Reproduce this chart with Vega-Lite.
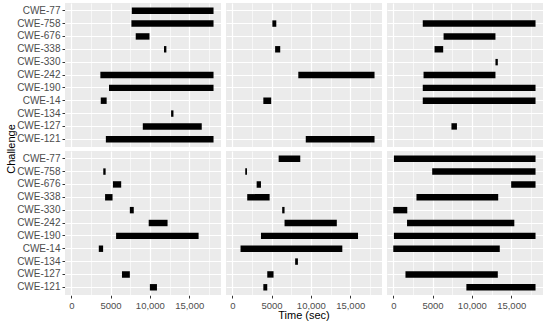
{
  "$schema": "https://vega.github.io/schema/vega-lite/v6.json",
  "padding": {"left": 5, "top": 3, "right": 5, "bottom": 0},
  "data": {"values": [
    {"r": 1, "c": 1, "challenge": "CWE-77", "start": 7700, "end": 18100},
    {"r": 1, "c": 1, "challenge": "CWE-758", "start": 7650, "end": 18100},
    {"r": 1, "c": 1, "challenge": "CWE-676", "start": 8200, "end": 9950},
    {"r": 1, "c": 1, "challenge": "CWE-338", "start": 11800, "end": 12100},
    {"r": 1, "c": 1, "challenge": "CWE-242", "start": 3700, "end": 18100},
    {"r": 1, "c": 1, "challenge": "CWE-190", "start": 4800, "end": 18100},
    {"r": 1, "c": 1, "challenge": "CWE-14", "start": 3750, "end": 4500},
    {"r": 1, "c": 1, "challenge": "CWE-134", "start": 12700, "end": 13000},
    {"r": 1, "c": 1, "challenge": "CWE-127", "start": 9100, "end": 16600},
    {"r": 1, "c": 1, "challenge": "CWE-121", "start": 4400, "end": 18100},

    {"r": 2, "c": 1, "challenge": "CWE-758", "start": 4070, "end": 4370},
    {"r": 2, "c": 1, "challenge": "CWE-676", "start": 5300, "end": 6350},
    {"r": 2, "c": 1, "challenge": "CWE-338", "start": 4300, "end": 5250},
    {"r": 2, "c": 1, "challenge": "CWE-330", "start": 7450, "end": 7950},
    {"r": 2, "c": 1, "challenge": "CWE-242", "start": 9850, "end": 12250},
    {"r": 2, "c": 1, "challenge": "CWE-190", "start": 5700, "end": 16200},
    {"r": 2, "c": 1, "challenge": "CWE-14", "start": 3500, "end": 4050},
    {"r": 2, "c": 1, "challenge": "CWE-127", "start": 6450, "end": 7450},
    {"r": 2, "c": 1, "challenge": "CWE-121", "start": 10000, "end": 10900},

    {"r": 1, "c": 2, "challenge": "CWE-758", "start": 5100, "end": 5600},
    {"r": 1, "c": 2, "challenge": "CWE-338", "start": 5450, "end": 6100},
    {"r": 1, "c": 2, "challenge": "CWE-242", "start": 8400, "end": 18100},
    {"r": 1, "c": 2, "challenge": "CWE-14", "start": 3950, "end": 4950},
    {"r": 1, "c": 2, "challenge": "CWE-121", "start": 9350, "end": 18100},

    {"r": 2, "c": 2, "challenge": "CWE-77", "start": 5900, "end": 8650},
    {"r": 2, "c": 2, "challenge": "CWE-758", "start": 1650, "end": 1870},
    {"r": 2, "c": 2, "challenge": "CWE-676", "start": 3100, "end": 3650},
    {"r": 2, "c": 2, "challenge": "CWE-338", "start": 1900, "end": 4750},
    {"r": 2, "c": 2, "challenge": "CWE-330", "start": 6350, "end": 6650},
    {"r": 2, "c": 2, "challenge": "CWE-242", "start": 6650, "end": 13300},
    {"r": 2, "c": 2, "challenge": "CWE-190", "start": 3650, "end": 16000},
    {"r": 2, "c": 2, "challenge": "CWE-14", "start": 1050, "end": 14000},
    {"r": 2, "c": 2, "challenge": "CWE-134", "start": 8000, "end": 8350},
    {"r": 2, "c": 2, "challenge": "CWE-127", "start": 4450, "end": 5250},
    {"r": 2, "c": 2, "challenge": "CWE-121", "start": 3950, "end": 4450},

    {"r": 1, "c": 3, "challenge": "CWE-758", "start": 3750, "end": 18100},
    {"r": 1, "c": 3, "challenge": "CWE-676", "start": 6400, "end": 13000},
    {"r": 1, "c": 3, "challenge": "CWE-338", "start": 5250, "end": 6350},
    {"r": 1, "c": 3, "challenge": "CWE-330", "start": 13000, "end": 13300},
    {"r": 1, "c": 3, "challenge": "CWE-242", "start": 3850, "end": 13000},
    {"r": 1, "c": 3, "challenge": "CWE-190", "start": 3750, "end": 18100},
    {"r": 1, "c": 3, "challenge": "CWE-14", "start": 3750, "end": 18100},
    {"r": 1, "c": 3, "challenge": "CWE-127", "start": 7400, "end": 8100},

    {"r": 2, "c": 3, "challenge": "CWE-77", "start": 80, "end": 18100},
    {"r": 2, "c": 3, "challenge": "CWE-758", "start": 4950, "end": 18100},
    {"r": 2, "c": 3, "challenge": "CWE-676", "start": 15000, "end": 18100},
    {"r": 2, "c": 3, "challenge": "CWE-338", "start": 2950, "end": 13350},
    {"r": 2, "c": 3, "challenge": "CWE-330", "start": 0, "end": 1780},
    {"r": 2, "c": 3, "challenge": "CWE-242", "start": 1750, "end": 15400},
    {"r": 2, "c": 3, "challenge": "CWE-190", "start": 80, "end": 18100},
    {"r": 2, "c": 3, "challenge": "CWE-14", "start": 0, "end": 13550},
    {"r": 2, "c": 3, "challenge": "CWE-127", "start": 1550, "end": 13300},
    {"r": 2, "c": 3, "challenge": "CWE-121", "start": 9300, "end": 18100}
  ]},
  "facet": {
    "row": {"field": "r", "type": "ordinal", "title": "Challenge", "header": {"labels": false, "labelPadding": 0, "titlePadding": -11, "titleFontSize": 11, "titleFontWeight": "normal", "titleColor": "#000000", "titleFont": "Liberation Sans"}},
    "column": {"field": "c", "type": "ordinal", "title": "Time (sec)", "header": {"labels": false, "labelPadding": 0, "titleOrient": "bottom", "titlePadding": -10, "titleFontSize": 11, "titleFontWeight": "normal", "titleColor": "#000000", "titleFont": "Liberation Sans"}}
  },
  "spacing": {"row": 4, "column": 5},
  "spec": {
    "width": 156,
    "height": 144,
    "mark": {"type": "bar", "color": "black"},
    "encoding": {
      "y": {
        "field": "challenge", "type": "nominal", "title": null,
        "scale": {"domain": ["CWE-77", "CWE-758", "CWE-676", "CWE-338", "CWE-330", "CWE-242", "CWE-190", "CWE-14", "CWE-134", "CWE-127", "CWE-121"], "paddingInner": 0.5, "paddingOuter": 0.35},
        "axis": {"bandPosition": 0.5, "labelFontSize": 10}
      },
      "x": {
        "field": "start", "type": "quantitative", "title": null,
        "scale": {"domain": [-800, 19050], "nice": false, "zero": false},
        "axis": {
          "values": [0, 2500, 5000, 7500, 10000, 12500, 15000, 17500],
          "labelExpr": "datum.value % 5000 === 0 ? (datum.value >= 10000 ? format(datum.value, ',') : format(datum.value, 'd')) : ''",
          "gridWidth": {"condition": {"test": "datum.value % 5000 !== 0", "value": 0.6}, "value": 1.2},
          "tickOpacity": {"condition": {"test": "datum.value % 5000 !== 0", "value": 0}, "value": 1},
          "labelFontSize": 9.5,
          "labelOverlap": false, "labelFlush": false
        }
      },
      "x2": {"field": "end"}
    }
  },
  "config": {
    "view": {"fill": "#EBEBEB", "stroke": null},
    "font": "Liberation Sans",
    "axis": {
      "domain": false,
      "grid": true,
      "gridColor": "#FFFFFF",
      "gridWidth": 1.2,
      "tickColor": "#333333",
      "tickSize": 3,
      "tickWidth": 1,
      "labelColor": "#4D4D4D",
      "labelPadding": 2,
      "labelFont": "Liberation Sans"
    }
  }
}
